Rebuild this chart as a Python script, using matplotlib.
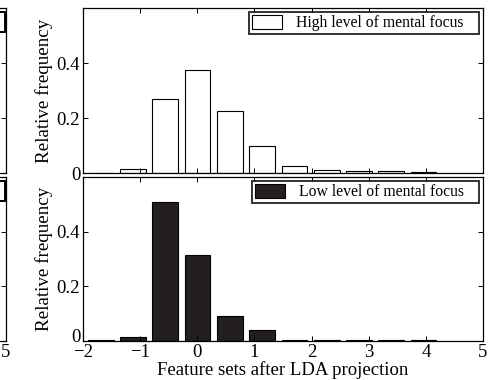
import matplotlib
matplotlib.use('Agg')
import matplotlib.pyplot as plt
import matplotlib.transforms as mtransforms
from matplotlib.patches import Rectangle

# bin centres of the LDA histogram
centers = [-1.69, -1.125, -0.56, 0.005, 0.57, 1.135, 1.70, 2.265, 2.83, 3.395, 3.96]
high_focus = [0.0, 0.015, 0.268, 0.374, 0.225, 0.098, 0.025, 0.011, 0.006, 0.006, 0.004]
low_focus = [0.003, 0.013, 0.507, 0.314, 0.093, 0.042, 0.005, 0.003, 0.002, 0.002, 0.002]
xticks = [-2, -1, 0, 1, 2, 3, 4, 5]
yticks = [0, 0.2, 0.4]
ytick_labels = ['0', '0.2', '0.4']

plt.rcParams['font.family'] = ['Liberation Serif', 'DejaVu Serif']
plt.rcParams['axes.linewidth'] = 0.9

W, H = 497, 380
fig = plt.figure(figsize=(W / 100, H / 100), dpi=100)

def style_axes(ax, show_xlabels):
    ax.set_xlim(-2, 5)
    ax.set_ylim(0, 0.6)
    ax.set_xticks(xticks)
    ax.set_yticks(yticks)
    ax.set_yticklabels(ytick_labels)
    ax.tick_params(direction='in', length=3.5, width=0.7, top=True, right=True,
                   labelsize=13.5, pad=2)
    if not show_xlabels:
        ax.tick_params(labelbottom=False)

def add_legend(ax, label):
    leg = ax.legend([label + '   '], loc='upper right', fontsize=11.3, frameon=True,
                    fancybox=False, edgecolor='black', borderaxespad=0.25,
                    handlelength=1.9, handleheight=0.95, handletextpad=0.9,
                    borderpad=0.2)
    leg.get_frame().set_linewidth(1.4)
    return leg

# partially visible panels on the left edge (cut off in the original)
ax_lt = fig.add_axes([6 / W - 0.8048, 0.5447, 0.8048, 0.4342])
style_axes(ax_lt, False)
ax_lt.tick_params(labelleft=False)
ax_lb = fig.add_axes([6 / W - 0.8048, 0.1026, 0.8048, 0.4316])
style_axes(ax_lb, True)
ax_lb.tick_params(labelleft=False)
ax_lb.set_xticks([5])
ax_lb.set_xticklabels(['5'])
# corners of their legend boxes
for y0 in (12, 181):
    fig.add_artist(Rectangle((-20 / W, 1 - (y0 + 20) / H), 24.5 / W, 20 / H,
                             transform=fig.transFigure, facecolor='white',
                             edgecolor='black', linewidth=1.4))

# Top panel
ax1 = fig.add_axes([0.167, 0.5447, 0.8048, 0.4342])
ax1.bar(centers, high_focus, width=0.45, color='white', edgecolor='black', linewidth=0.8)
style_axes(ax1, False)
ax1.set_ylabel('Relative frequency', fontsize=13.7, labelpad=3)
add_legend(ax1, 'High level of mental focus')

# Bottom panel
ax2 = fig.add_axes([0.167, 0.1026, 0.8048, 0.4316])
ax2.bar(centers, low_focus, width=0.45, color='#231f20', edgecolor='black', linewidth=0.8)
style_axes(ax2, True)
ax2.set_ylabel('Relative frequency', fontsize=13.7, labelpad=3)
ax2.set_xlabel('Feature sets after LDA projection', fontsize=13.5, labelpad=0)
add_legend(ax2, 'Low level of mental focus')

# lift the "0" so it clears the "-2" below, as in the original
zero_label = ax2.get_yticklabels()[0]
zero_label.set_transform(zero_label.get_transform() +
                         mtransforms.ScaledTranslation(0, 6 / 100, fig.dpi_scale_trans))

fig.savefig('out.png', dpi=100)
